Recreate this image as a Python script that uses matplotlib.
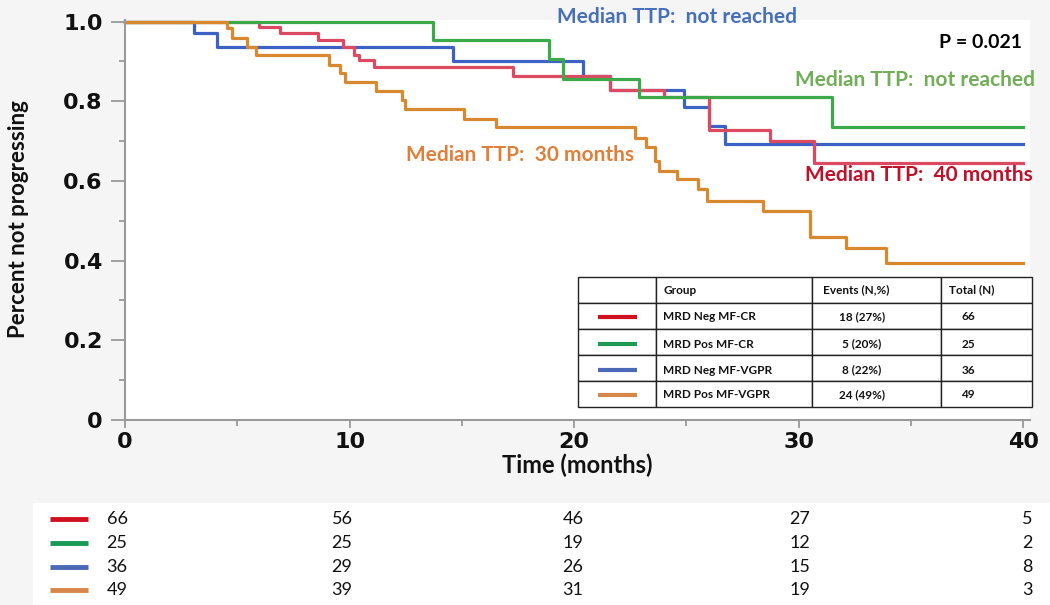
import matplotlib
matplotlib.use("Agg")
import matplotlib.pyplot as plt
from matplotlib.patches import Rectangle
from matplotlib.ticker import MultipleLocator

# step curves (months, fraction not progressing)
red_t = [0, 5.98, 6.9, 8.6, 9.7, 10.2, 10.4, 11.1, 17.3, 21.6, 24.0, 26.0, 28.7, 30.66, 40]
red_s = [1.0, 0.987, 0.971, 0.954, 0.937, 0.916, 0.903, 0.886, 0.863, 0.829, 0.811, 0.728, 0.701, 0.646, 0.646]

green_t = [0, 13.7, 18.9, 19.5, 22.9, 31.5, 40]
green_s = [1.0, 0.954, 0.905, 0.857, 0.811, 0.736, 0.736]

blue_t = [0, 3.07, 4.1, 14.6, 20.4, 21.6, 24.9, 26.0, 26.7, 40]
blue_s = [1.0, 0.971, 0.935, 0.901, 0.863, 0.829, 0.785, 0.739, 0.693, 0.693]

orange_t = [0, 4.53, 4.75, 5.42, 5.84, 9.1, 9.58, 9.8, 11.18, 12.32, 12.47, 15.1, 16.5,
            22.7, 23.2, 23.6, 23.8, 24.6, 25.5, 25.9, 28.4, 30.5, 32.1, 33.9, 40]
orange_s = [1.0, 0.983, 0.958, 0.937, 0.916, 0.891, 0.870, 0.848, 0.827, 0.802, 0.781, 0.756, 0.735,
            0.709, 0.684, 0.65, 0.625, 0.604, 0.579, 0.55, 0.524, 0.46, 0.432, 0.394, 0.394]

groups = ["MRD Neg MF-CR", "MRD Pos MF-CR", "MRD Neg MF-VGPR", "MRD Pos MF-VGPR"]
events = ["18 (27%)", "5 (20%)", "8 (22%)", "24 (49%)"]
totals = ["66", "25", "36", "49"]
headers = ["Group", "Events (N,%)", "Total (N)"]

risk_times = [0, 10, 20, 30, 40]
at_risk = [
    [66, 56, 46, 27, 5],
    [25, 25, 19, 12, 2],
    [36, 29, 26, 15, 8],
    [49, 39, 31, 19, 3],
]

line_cols = ["#dc4a62", "#3daa4a", "#3d62c6", "#d8892f"]
swatch_cols = ["#d0101e", "#1a9a55", "#4a6ab8", "#d8874a"]

LATO = ["Lato", "DejaVu Sans"]

W, H = 1050, 605
fig = plt.figure(figsize=(W / 100, H / 100), dpi=100, facecolor="#f5f5f5")
# white band for the numbers at risk
fig.patches.append(Rectangle((33 / W, 0), 1 - 33 / W, (605 - 503) / H,
                             transform=fig.transFigure, facecolor="white", edgecolor="none", zorder=0))

ax = fig.add_axes([125 / W, (H - 420) / H, 905 / W, 400 / H])
ax.set_facecolor("white")


def px_ax(x, y):
    # figure pixel -> axes fraction
    return (x - 125) / 905, (420 - y) / 400


curves = {"red": (red_t, red_s), "green": (green_t, green_s),
          "blue": (blue_t, blue_s), "orange": (orange_t, orange_s)}
for key, c in [("blue", line_cols[2]), ("red", line_cols[0]), ("green", line_cols[1]), ("orange", line_cols[3])]:
    t, s = curves[key]
    ax.plot(t, s, drawstyle="steps-post", color=c, lw=2.3, clip_on=False)

ax.set_xlim(0, 40.3)
ax.set_ylim(0, 1.004)

for side in ["top", "right"]:
    ax.spines[side].set_visible(False)
for side in ["left", "bottom"]:
    ax.spines[side].set_color("#9a9a9a")
    ax.spines[side].set_linewidth(1.5)

ax.xaxis.set_major_locator(MultipleLocator(10))
ax.xaxis.set_minor_locator(MultipleLocator(5))
ax.yaxis.set_minor_locator(MultipleLocator(0.1))
ax.set_yticks([0, 0.2, 0.4, 0.6, 0.8, 1.0])
ax.set_yticklabels(["0", "0.2", "0.4", "0.6", "0.8", "1.0"])
ax.tick_params(axis="y", which="major", length=10, width=1.3, color="#9a9a9a", pad=6)
ax.tick_params(axis="y", which="minor", length=4, width=1.3, color="#9a9a9a")
ax.tick_params(axis="x", which="major", length=6, width=1.3, color="#9a9a9a", pad=3)
ax.tick_params(axis="x", which="minor", length=4, width=1.3, color="#9a9a9a")
for lab in ax.get_xticklabels() + ax.get_yticklabels():
    lab.set_fontweight("bold")
    lab.set_fontsize(16)
    lab.set_color("#111111")

ax.set_xlabel("Time (months)", fontsize=17, fontweight="bold", family=LATO, color="#111111", labelpad=1)
fig.text(19 / W, 1 - 219 / H, "Percent not progressing", rotation=90, ha="center", va="center",
         fontsize=16, fontweight="bold", family=LATO, color="#111111")

# median annotations
ax.text(19.25, 1.012, "Median TTP:  not reached", color="#4670b8", fontsize=15, fontweight="bold",
        family=LATO, va="center", ha="left", clip_on=False)
ax.text(29.84, 0.854, "Median TTP:  not reached", color="#72ad58", fontsize=15, fontweight="bold",
        family=LATO, va="center", ha="left")
ax.text(12.52, 0.665, "Median TTP:  30 months", color="#e07f3a", fontsize=15, fontweight="bold",
        family=LATO, va="center", ha="left")
ax.text(30.29, 0.615, "Median TTP:  40 months", color="#c0102a", fontsize=15, fontweight="bold",
        family=LATO, va="center", ha="left")
ax.text(39.96, 0.947, "P = 0.021", color="black", fontsize=14, fontweight="bold",
        family=LATO, va="center", ha="right")

# summary table: grid from ax.table, text placed by hand
bx0, by0 = px_ax(578, 407)
bx1, by1 = px_ax(1032, 277)
tb = ax.table(cellText=[[""] * 4 for _ in range(5)], colWidths=[78, 156, 129, 91],
              bbox=[bx0, by0, bx1 - bx0, by1 - by0], zorder=5)
for cell in tb.get_celld().values():
    cell.set_edgecolor("#222222")
    cell.set_linewidth(1.0)
    cell.set_facecolor("white")

row_y = [290, 317, 344, 370, 395]
tkw = dict(transform=ax.transAxes, fontsize=8.5, fontweight="bold", family=LATO,
           color="#111111", va="center", zorder=7)
for x, h in zip([663, 823, 949], headers):
    ax.text(*px_ax(x, row_y[0]), h, ha="left", **tkw)
for i in range(4):
    y = row_y[i + 1]
    ax.plot([px_ax(598, y)[0], px_ax(637, y)[0]], [px_ax(0, y)[1]] * 2, transform=ax.transAxes,
            color=swatch_cols[i], lw=3, solid_capstyle="butt", zorder=6, clip_on=False)
    ax.text(*px_ax(663, y), groups[i], ha="left", **tkw)
    ax.text(*px_ax(862, y), events[i], ha="center", **tkw)
    ax.text(*px_ax(968, y), totals[i], ha="center", **tkw)

# numbers at risk
col_x = [117, 342, 573, 800, 1027]
risk_y = [519, 543, 567, 590]
for i, row in enumerate(at_risk):
    fig.add_artist(plt.Line2D([50 / W, 88 / W], [1 - risk_y[i] / H] * 2, color=swatch_cols[i], lw=3.5,
                              solid_capstyle="butt"))
    for j, v in enumerate(row):
        fig.text(col_x[j] / W, 1 - risk_y[i] / H, str(v), ha="center", va="center",
                 fontsize=13, family=LATO, color="#111111")

fig.savefig("out.png", dpi=100, facecolor=fig.get_facecolor())
